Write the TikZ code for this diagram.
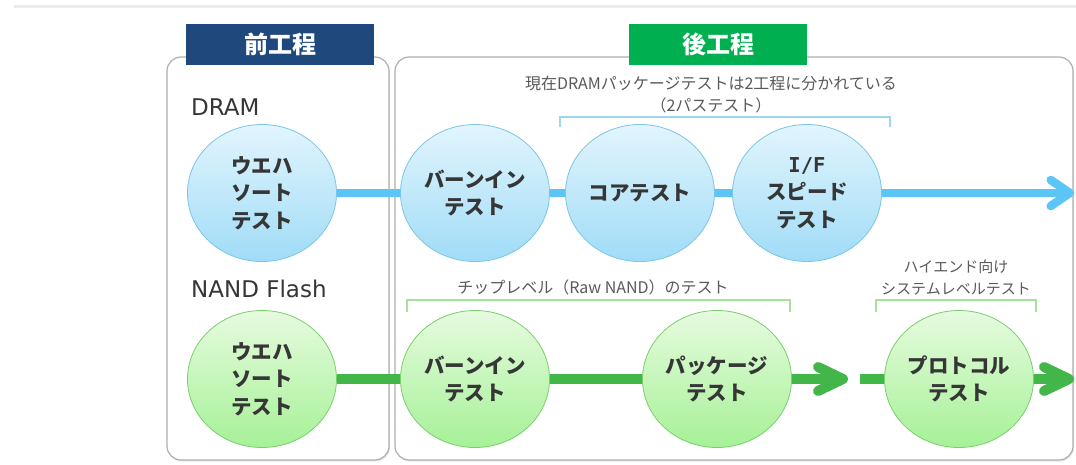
\documentclass[tikz,border=0pt]{standalone}
\usepackage{fontspec}
\setmainfont{Noto Sans CJK JP}
\newfontfamily\dvsans{DejaVu Sans}
\newfontfamily\dvmono{DejaVu Sans Mono}
\usetikzlibrary{arrows.meta,shapes.geometric,shadows}
\definecolor{navy}{HTML}{1F497D}
\definecolor{hgreen}{HTML}{00B050}
\definecolor{bline}{HTML}{5BC5F5}
\definecolor{gline}{HTML}{43B649}
\definecolor{bbord}{HTML}{7CC5E3}
\definecolor{gbord}{HTML}{79CF6B}
\definecolor{btop}{HTML}{E2F5FD}
\definecolor{bbot}{HTML}{A0DCF7}
\definecolor{gtop}{HTML}{E6FBDF}
\definecolor{gbot}{HTML}{A6F197}
\definecolor{txt}{HTML}{363636}
\definecolor{lbltxt}{HTML}{5A5A5A}
\definecolor{panelc}{HTML}{AEAEAE}
\definecolor{bbrk}{HTML}{9DD7F0}
\definecolor{gbrk}{HTML}{A6E29A}
\tikzset{
  panel/.style={draw=panelc, line width=1.2pt, rounded corners=14pt, fill=white,
    drop shadow={opacity=0.18, shadow xshift=1pt, shadow yshift=-1.5pt}},
  hdr/.style={minimum height=41pt, inner sep=0pt, text=white,
    font=\fontsize{24}{28}\selectfont\bfseries},
  stepc/.style={ellipse, minimum width=149pt, minimum height=137pt, inner sep=0pt,
    line width=0.8pt, align=center, text=txt, font=\fontsize{20.5}{27.5}\selectfont\bfseries},
  bc/.style={stepc, draw=bbord, top color=btop, bottom color=bbot},
  gc/.style={stepc, draw=gbord, top color=gtop, bottom color=gbot},
  bl/.style={draw=bline, line width=8.5pt},
  gl/.style={draw=gline, line width=10pt},
  barb/.style={-{Straight Barb[length=19pt, width=26pt, round]}},
  gbarb/.style={-{Straight Barb[length=25pt, width=24pt, round]}},
  lbl/.style={text=lbltxt, inner sep=0pt, font=\fontsize{16}{20}\selectfont},
  rowlbl/.style={anchor=west, inner sep=0pt, text=txt, font=\dvsans\fontsize{23}{26}\selectfont},
}
\begin{document}
\begin{tikzpicture}[x=1pt,y=-1pt]
\useasboundingbox (0,0) rectangle (1076,464);
\fill[white] (0,0) rectangle (1076,464);
\draw[color={rgb,255:red,235;green,235;blue,235}, line width=3pt] (14,6) -- (1076,6);

% panels
\node[panel, minimum width=222pt, minimum height=403pt] (prep) at (278,258.5) {};
\node[panel, minimum width=678pt, minimum height=403pt] (postp) at (734,258.5) {};

% headers
\node[hdr, fill=navy, minimum width=188pt] (preh) at (280,44.5) {前工程};
\node[hdr, fill=hgreen, minimum width=178pt] (posth) at (718,44.5) {後工程};

% row labels
\node[rowlbl] (dram) at (191,107) {DRAM};
\node[rowlbl] (nand) at (191,289) {NAND Flash};

% DRAM circles
\node[bc] (dw) at (262,193) {ウエハ\\ソート\\テスト};
\node[bc] (db) at (475,193) {バーンイン\\テスト};
\node[bc] (dc) at (640,193) {コアテスト};
\node[bc] (di) at (807,193) {{\dvmono\bfseries I/F}\\スピード\\テスト};
\coordinate (dend) at (1074,193);

% NAND circles
\node[gc] (nw) at (262,379) {ウエハ\\ソート\\テスト};
\node[gc] (nb) at (475,379) {バーンイン\\テスト};
\node[gc] (np) at (717,379) {パッケージ\\テスト};
\node[gc] (nr) at (959,379) {プロトコル\\テスト};
\coordinate (ng1) at (848,379);
\coordinate (ng2) at (860,379);
\coordinate (nend) at (1074,379);

% connectors DRAM
\draw[bl] (dw.east) -- (db.west);
\draw[bl] (db.east) -- (dc.west);
\draw[bl] (dc.east) -- (di.west);
\draw[bl, barb] (di.east) -- (dend);

% connectors NAND
\draw[gl] (nw.east) -- (nb.west);
\draw[gl] (nb.east) -- (np.west);
\draw[gl, gbarb] (np.east) -- (ng1);
\draw[gl] (ng2) -- (nr.west);
\draw[gl, gbarb] (nr.east) -- (nend);

% brackets and labels
\draw[draw=bbrk, line width=1.3pt] (560,127) -- (560,117) -- (890,117) -- (890,127);
\node[lbl] (dl1) at (711,83) {現在DRAMパッケージテストは2工程に分かれている};
\node[lbl] (dl2) at (711,105) {（2パステスト）};

\draw[draw=gbrk, line width=1.3pt] (407,312) -- (407,300) -- (790,300) -- (790,312);
\node[lbl] (nl1) at (593,287) {チップレベル（Raw NAND）のテスト};

\draw[draw=gbrk, line width=1.3pt] (876,312) -- (876,300) -- (1036,300) -- (1036,312);
\node[lbl, font=\fontsize{15}{19}\selectfont] (hl1) at (956,267) {ハイエンド向け};
\node[lbl, font=\fontsize{15}{19}\selectfont] (hl2) at (956,289) {システムレベルテスト};
\end{tikzpicture}
\end{document}
